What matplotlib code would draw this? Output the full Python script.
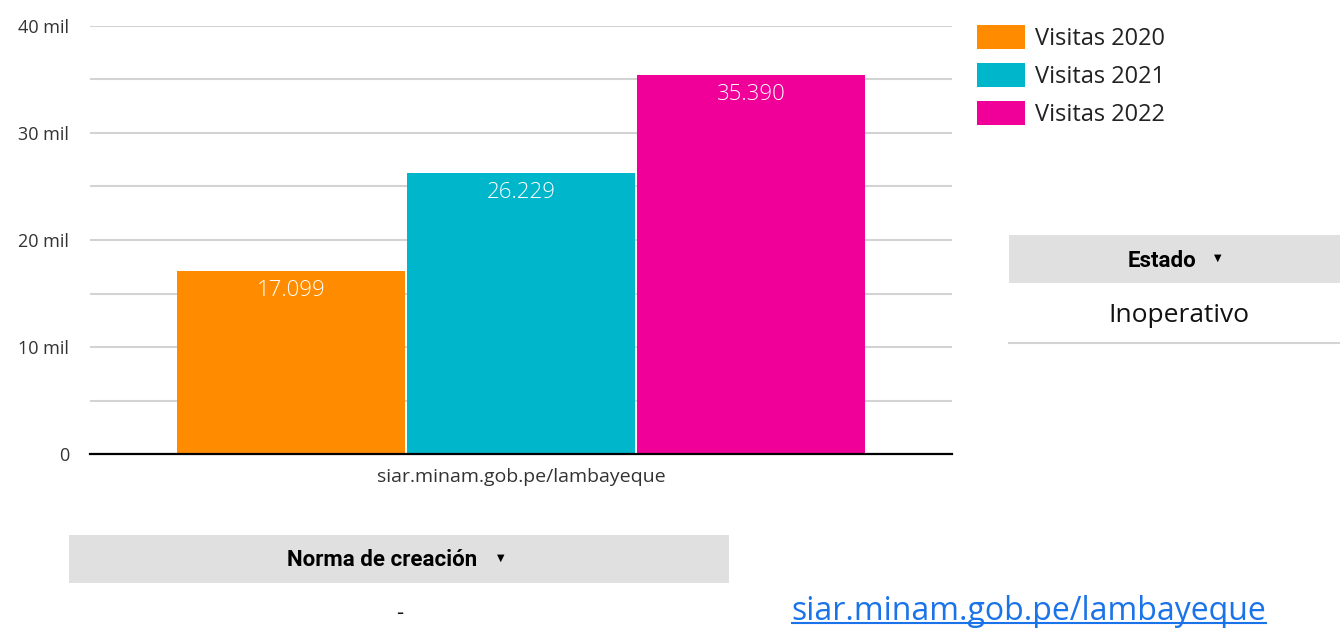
import matplotlib
matplotlib.use("Agg")
import matplotlib.pyplot as plt
from matplotlib.patches import Rectangle
from matplotlib.lines import Line2D
from matplotlib.ticker import FixedLocator, FuncFormatter

# ---- data ----
category = "siar.minam.gob.pe/lambayeque"
series = ["Visitas 2020", "Visitas 2021", "Visitas 2022"]
values = [17099, 26229, 35390]
colors = ["#FF8C00", "#00B6CB", "#F00099"]
major_ticks = [0, 10000, 20000, 30000, 40000]
minor_ticks = [5000, 15000, 25000, 35000]
estado_header = "Estado"
estado_value = "Inoperativo"
norma_header = "Norma de creación"
norma_value = "-"
link_text = "siar.minam.gob.pe/lambayeque"

W, H = 1340, 635
fig = plt.figure(figsize=(W / 100, H / 100), dpi=100)
FONT = ["Open Sans", "DejaVu Sans"]
BOLD = ["Roboto", "DejaVu Sans"]

def fx(px):
    return px / W

def fy(py):
    return 1 - py / H

ax = fig.add_axes([fx(90), fy(454), fx(952) - fx(90), fy(26) - fy(454)])

positions = [-1, 0, 1]
bars = ax.bar(positions, values, width=0.99, color=colors, edgecolor="none", zorder=3)
for b, v in zip(bars, values):
    lbl = f"{v:,}".replace(",", ".")
    ax.annotate(lbl, (b.get_x() + b.get_width() / 2, v), xytext=(0, -12),
                textcoords="offset points", ha="center", va="center_baseline",
                color="white", fontsize=16, family=FONT, fontweight="light", zorder=4)

ax.set_xlim(-1.874, 1.874)
ax.set_ylim(0, 40000)
ax.yaxis.set_major_locator(FixedLocator(major_ticks))
ax.yaxis.set_minor_locator(FixedLocator(minor_ticks))
ax.yaxis.set_major_formatter(FuncFormatter(lambda v, p: "0" if v == 0 else f"{int(v/1000)} mil"))
ax.grid(axis="y", which="both", color="#D3D3D3", linewidth=1.5, zorder=0)
ax.set_axisbelow(True)
ax.tick_params(axis="y", which="both", length=0, pad=15, labelsize=13, labelcolor="#333333")
for lab in ax.get_yticklabels():
    lab.set_family(FONT)
ax.set_xticks([0])
ax.set_xticklabels([category], fontsize=14, color="#333333", family=FONT)
ax.tick_params(axis="x", length=0, pad=10)
for s in ["left", "right", "top"]:
    ax.spines[s].set_visible(False)
ax.spines["bottom"].set_color("black")
ax.spines["bottom"].set_linewidth(1.6)
ax.spines["bottom"].set_zorder(5)

# ---- legend ----
for i, (name, c) in enumerate(zip(series, colors)):
    yc = 37 + i * 38
    fig.add_artist(Rectangle((fx(977), fy(yc + 12)), fx(48), fy(yc - 12) - fy(yc + 12),
                             transform=fig.transFigure, color=c, lw=0))
    fig.text(fx(1035), fy(yc - 1), name, fontsize=17, family=FONT, color="#222222",
             ha="left", va="center_baseline")

# ---- Estado table ----
fig.add_artist(Rectangle((fx(1009), fy(283)), fx(1340) - fx(1009), fy(235) - fy(283),
                         transform=fig.transFigure, color="#E0E0E0", lw=0))
fig.text(fx(1162), fy(258), estado_header, fontsize=16, family=BOLD,
         fontweight="bold", color="black", ha="center", va="center_baseline")
fig.text(fx(1218), fy(258), "▼", fontsize=7, family="DejaVu Sans", color="black",
         ha="center", va="center")
fig.text(fx(1179), fy(313), estado_value, fontsize=19, family=FONT, color="#111111",
         ha="center", va="center_baseline")
fig.add_artist(Line2D([fx(1009), fx(1340)], [fy(343), fy(343)], transform=fig.transFigure,
                      color="#D3D3D3", lw=1.5))

# ---- Norma table ----
fig.add_artist(Rectangle((fx(69), fy(583)), fx(729) - fx(69), fy(535) - fy(583),
                         transform=fig.transFigure, color="#E0E0E0", lw=0))
fig.text(fx(382), fy(558), norma_header, fontsize=16, family=BOLD,
         fontweight="bold", color="black", ha="center", va="center_baseline")
fig.text(fx(501), fy(558), "▼", fontsize=7, family="DejaVu Sans", color="black",
         ha="center", va="center")
fig.text(fx(400), fy(613), norma_value, fontsize=16, family=FONT, color="#111111",
         ha="center", va="center")

# ---- link ----
lt = fig.text(fx(1029), fy(607), link_text, fontsize=23, family=FONT, color="#1A73E8",
              ha="center", va="center_baseline")
fig.canvas.draw()
bb = lt.get_window_extent(renderer=fig.canvas.get_renderer())
fig.add_artist(Line2D([bb.x0 / W, bb.x1 / W], [fy(623), fy(623)], transform=fig.transFigure,
                      color="#1A73E8", lw=1.5))

fig.savefig("out.png", dpi=100)
